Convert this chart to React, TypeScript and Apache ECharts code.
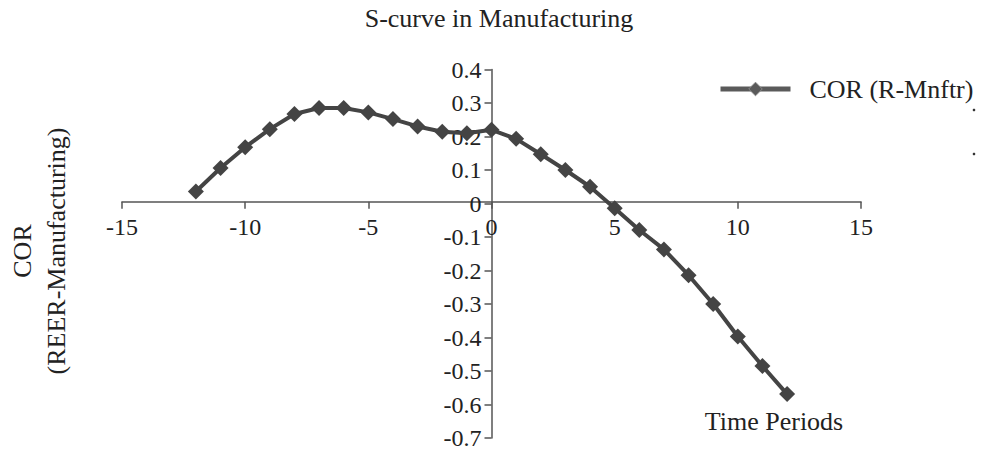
import React, { useEffect, useRef } from "react";
import * as echarts from "echarts";

const periods = [-12, -11, -10, -9, -8, -7, -6, -5, -4, -3, -2, -1, 0, 1, 2, 3, 4, 5, 6, 7, 8, 9, 10, 11, 12];
const corValues = [0.036, 0.106, 0.168, 0.222, 0.267, 0.285, 0.285, 0.272, 0.252, 0.230, 0.214, 0.210, 0.220, 0.193, 0.147, 0.100, 0.050, -0.014, -0.079, -0.137, -0.214, -0.300, -0.397, -0.485, -0.569];
const seriesName = "COR (R-Mnftr)";
const titleText = "S-curve in Manufacturing";
const xAxisTitle = "Time Periods";
const yAxisTitleLines = ["COR", "(REER-Manufacturing)"];
const yMin = -0.7;
const yMax = 0.4;
const xMin = -15;
const xMax = 15;

const FONT = '"Liberation Serif", "Times New Roman", serif';

export default function App() {
  const ref = useRef<HTMLDivElement>(null);
  useEffect(() => {
    if (!ref.current) return;
    const chart = echarts.init(ref.current, null, { renderer: "svg" });
    const data = periods.map((p, i) => [p, corValues[i]]);
    const W = 983;
    const H = 450;
    const gridTop = 69.5;
    const gridBottom = 9.25;
    const gridLeft = 122;
    const gridRight = 122;
    const gridHeight = H - gridTop - gridBottom;
    const gridWidth = W - gridLeft - gridRight;
    // axes cross at the origin
    const xAxisOffset = -((0 - yMin) / (yMax - yMin)) * gridHeight;
    const yAxisOffset = -((0 - xMin) / (xMax - xMin)) * gridWidth;
    chart.setOption({
      animation: false,
      backgroundColor: "#ffffff",
      textStyle: { fontFamily: FONT, color: "#222" },
      title: {
        text: titleText,
        left: 494,
        top: 0,
        textAlign: "center",
        textStyle: { fontFamily: FONT, fontSize: 26, fontWeight: "normal", color: "#222" },
      },
      legend: {
        left: 713,
        top: 71,
        itemWidth: 70,
        itemHeight: 17,
        data: [seriesName],
        lineStyle: { width: 5, color: "#5a5a5a" },
        itemStyle: { color: "#5a5a5a", borderColor: "#888", borderWidth: 1 },
        textStyle: { fontFamily: FONT, fontSize: 26, color: "#222", padding: [0, 0, 0, 14] },
      },
      grid: { left: gridLeft, right: gridRight, top: gridTop, bottom: gridBottom, containLabel: false },
      xAxis: {
        type: "value",
        min: xMin,
        max: xMax,
        interval: 5,
        offset: xAxisOffset,
        splitLine: { show: false },
        axisLine: { onZero: false, lineStyle: { color: "#555", width: 1.5 } },
        axisTick: { show: true, length: 7, lineStyle: { color: "#555", width: 1.5 } },
        axisLabel: { fontFamily: FONT, fontSize: 24, color: "#222", margin: 13 },
      },
      yAxis: {
        type: "value",
        min: yMin,
        max: yMax,
        interval: 0.1,
        offset: yAxisOffset,
        splitLine: { show: false },
        axisLine: { onZero: false, lineStyle: { color: "#555", width: 1.5 } },
        axisTick: { show: true, length: 7, lineStyle: { color: "#555", width: 1.5 } },
        axisLabel: {
          fontFamily: FONT,
          fontSize: 24,
          color: "#222",
          margin: 10,
          formatter: (v: number) => String(Math.round(v * 10) / 10),
        },
      },
      series: [
        {
          name: seriesName,
          type: "line",
          data,
          symbol: "diamond",
          symbolSize: 16,
          z: 5,
          lineStyle: { color: "#444", width: 4 },
          itemStyle: { color: "#444" },
        },
      ],
      graphic: [
        {
          type: "text",
          x: 22,
          y: 251,
          rotation: Math.PI / 2,
          style: { text: yAxisTitleLines[0], font: `26px ${FONT}`, fill: "#222", textAlign: "center", textVerticalAlign: "middle" },
        },
        {
          type: "text",
          x: 56,
          y: 251,
          rotation: Math.PI / 2,
          style: { text: yAxisTitleLines[1], font: `26px ${FONT}`, fill: "#222", textAlign: "center", textVerticalAlign: "middle" },
        },
        {
          type: "text",
          x: 774,
          y: 421,
          style: { text: xAxisTitle, font: `26px ${FONT}`, fill: "#222", textAlign: "center", textVerticalAlign: "middle" },
        },
        { type: "circle", z: 10, shape: { cx: 974, cy: 110, r: 1.3 }, style: { fill: "#333" } },
        { type: "circle", z: 10, shape: { cx: 974, cy: 154, r: 1.3 }, style: { fill: "#333" } },
      ],
    });
    return () => chart.dispose();
  }, []);
  return <div ref={ref} style={{ width: 983, height: 450, position: "absolute", left: 0, top: 0 }} />;
}
